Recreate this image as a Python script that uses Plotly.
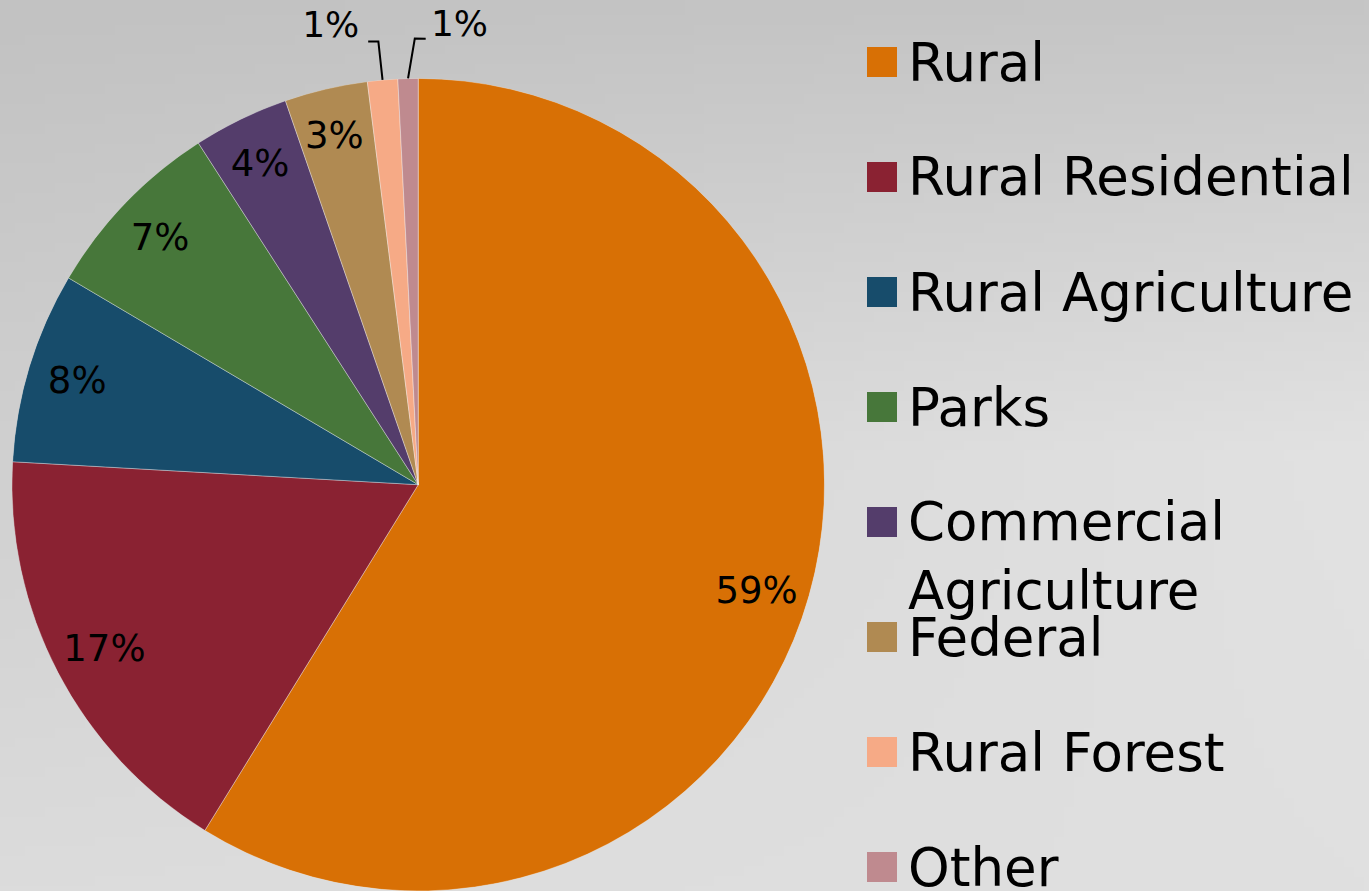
import base64
import struct
import zlib

import numpy as np
import plotly.graph_objects as go

# ---------------- data ----------------
categories = ["Rural", "Rural Residential", "Rural Agriculture", "Parks",
              "Commercial Agriculture", "Federal", "Rural Forest", "Other"]
legend_labels = ["Rural", "Rural Residential", "Rural Agriculture", "Parks",
                 "Commercial<br>Agriculture", "Federal", "Rural Forest", "Other"]
shares = [58.8, 17.1, 7.6, 7.4, 3.8, 3.3, 1.2, 0.8]
colors = ["#d87005", "#8a2232", "#174c6b", "#47773a",
          "#543d6b", "#b08a52", "#f6aa86", "#bf8a8f"]

W, H = 1369, 891
FONT = "DejaVu Sans, Verdana, sans-serif"

# ---------------- background gradient (styling only) ----------------
def png_uri(arr):
    h, w, _ = arr.shape
    raw = b"".join(b"\x00" + arr[i].tobytes() for i in range(h))

    def chunk(tag, data):
        c = tag + data
        return struct.pack(">I", len(data)) + c + struct.pack(">I", zlib.crc32(c) & 0xffffffff)

    png = (b"\x89PNG\r\n\x1a\n"
           + chunk(b"IHDR", struct.pack(">IIBBBBB", w, h, 8, 2, 0, 0, 0))
           + chunk(b"IDAT", zlib.compress(raw, 9))
           + chunk(b"IEND", b""))
    return "data:image/png;base64," + base64.b64encode(png).decode()

grid = np.array([[194, 196, 198],
                 [208, 218, 226],
                 [220, 222, 224]], dtype=float)
gh, gw = 90, 137
ys = np.linspace(0, 2, gh)
xs = np.linspace(0, 2, gw)
yy, xx = np.meshgrid(ys, xs, indexing="ij")
y0 = np.clip(np.floor(yy).astype(int), 0, 1)
x0 = np.clip(np.floor(xx).astype(int), 0, 1)
fy = yy - y0
fx = xx - x0
v = (grid[y0, x0] * (1 - fx) * (1 - fy) + grid[y0, x0 + 1] * fx * (1 - fy)
     + grid[y0 + 1, x0] * (1 - fx) * fy + grid[y0 + 1, x0 + 1] * fx * fy)
img = np.repeat(np.clip(v, 0, 255).astype(np.uint8)[:, :, None], 3, axis=2)
bg_uri = png_uri(img)

# ---------------- geometry ----------------
dom_x = [0.008, 0.603]
dom_y = [0.0, 0.912]
R = min((dom_x[1] - dom_x[0]) * W, (dom_y[1] - dom_y[0]) * H) / 2
CX = (dom_x[0] + dom_x[1]) / 2 * W
CY = H - (dom_y[0] + dom_y[1]) / 2 * H  # from top

total = sum(shares)
cum = np.cumsum([0] + shares)
widths = [s / total * 360 for s in shares]
mid_angles = [(cum[i] + shares[i] / 2) / total * 360 for i in range(len(shares))]
pct_text = [f"{round(s / total * 100)}%" for s in shares]

fig = go.Figure()

# pie wedges
fig.add_trace(go.Barpolar(
    r=[1.0] * len(shares), theta=mid_angles, width=widths, base=0,
    marker=dict(color=colors, line=dict(color="rgba(255,255,255,0.35)", width=1)),
    text=categories, showlegend=False,
    hovertemplate="%{text}<extra></extra>",
))

# inside labels
inside_idx = [i for i, s in enumerate(shares) if s / total >= 0.02]
fig.add_trace(go.Scatterpolar(
    r=[0.875] * len(inside_idx),
    theta=[mid_angles[i] + (2.0 if i == 0 else -0.5) for i in inside_idx],
    text=[pct_text[i] for i in inside_idx],
    mode="text", textfont=dict(family=FONT, size=37, color="#000000"),
    showlegend=False, hoverinfo="skip",
))

# outside labels with leader lines for tiny slices (cartesian overlay in pie-radius units)
def to_xy(rho, theta):
    t = np.radians(theta)
    return rho * np.sin(t), rho * np.cos(t)

i_rf, i_ot = 6, 7
m_rf, m_ot = mid_angles[i_rf], mid_angles[i_ot]
leaders = [
    ([1.0, 1.095, 1.098], [m_rf, m_rf - 0.1, m_rf - 1.4]),
    ([1.0, 1.098, 1.098], [m_ot, m_ot + 1.0, m_ot + 2.4]),
]
for rhos, thetas in leaders:
    lx, ly = to_xy(np.array(rhos), np.array(thetas))
    fig.add_trace(go.Scatter(
        x=lx, y=ly, mode="lines", line=dict(color="#000000", width=2),
        showlegend=False, hoverinfo="skip", cliponaxis=False,
    ))
tx, ty = to_xy(np.array([1.145, 1.13]), np.array([m_rf - 5.8, m_ot + 6.6]))
fig.add_trace(go.Scatter(
    x=tx, y=ty, text=[pct_text[i_rf], pct_text[i_ot]], mode="text",
    textposition="middle center",
    textfont=dict(family=FONT, size=36, color="#000000"),
    showlegend=False, hoverinfo="skip", cliponaxis=False,
))

# ---------------- legend (annotations + squares) ----------------
annotations = []
shapes = []
leg_font = 53
line_h = 68
first_y = 62
step = 115
sq = 30
sq_cx = 882
text_x = 906
for i, (lab, col) in enumerate(zip(legend_labels, colors)):
    yc = first_y + step * i
    nlines = lab.count("<br>") + 1
    yt = yc + (nlines - 1) * line_h / 2
    annotations.append(dict(
        text=lab, x=text_x / W, y=1 - yt / H, xref="paper", yref="paper",
        xanchor="left", yanchor="middle", align="left", showarrow=False,
        font=dict(family=FONT, size=leg_font, color="#000000"),
    ))
    shapes.append(dict(
        type="rect", xref="paper", yref="paper",
        x0=(sq_cx - sq / 2) / W, x1=(sq_cx + sq / 2) / W,
        y0=1 - (yc + sq / 2) / H, y1=1 - (yc - sq / 2) / H,
        fillcolor=col, line=dict(width=0),
    ))

fig.update_layout(
    width=W, height=H, margin=dict(l=0, r=0, t=0, b=0),
    paper_bgcolor="#d6d6d6", plot_bgcolor="rgba(0,0,0,0)",
    showlegend=False,
    xaxis=dict(domain=[0, 1], range=[-CX / R, (W - CX) / R], visible=False,
               showgrid=False, zeroline=False, fixedrange=True),
    yaxis=dict(domain=[0, 1], range=[-(H - CY) / R, CY / R], visible=False,
               showgrid=False, zeroline=False, fixedrange=True),
    polar=dict(
        domain=dict(x=dom_x, y=dom_y), bgcolor="rgba(0,0,0,0)",
        radialaxis=dict(range=[0, 1], visible=False, showgrid=False),
        angularaxis=dict(rotation=90, direction="clockwise", visible=False,
                         showgrid=False, showline=False, ticks=""),
    ),
    images=[dict(source=bg_uri, xref="paper", yref="paper", x=0, y=1,
                 sizex=1, sizey=1, sizing="stretch", xanchor="left",
                 yanchor="top", layer="below")],
    annotations=annotations, shapes=shapes,
)

fig.write_html("out.html", config={"displayModeBar": False},
               post_script="document.body.style.margin='0px';")
